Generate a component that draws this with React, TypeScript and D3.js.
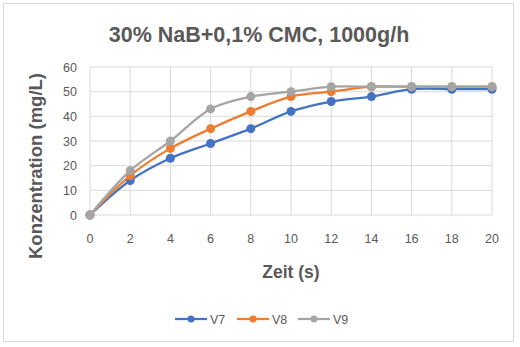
import React from "react";
import * as d3 from "d3";

const times = [0, 2, 4, 6, 8, 10, 12, 14, 16, 18, 20];
const v7 = [0, 14, 23, 29, 35, 42, 46, 48, 51, 51, 51];
const v8 = [0, 16, 27, 35, 42, 48, 50, 52, 52, 52, 52];
const v9 = [0, 18, 30, 43, 48, 50, 52, 52, 52, 52, 52];
const seriesNames = ["V7", "V8", "V9"];
const seriesColors = ["#4472C4", "#ED7D31", "#A5A5A5"];
const xTicks = [0, 2, 4, 6, 8, 10, 12, 14, 16, 18, 20];
const yTicks = [0, 10, 20, 30, 40, 50, 60];

export default function App() {
  const W = 520, H = 347;
  const x = d3.scaleLinear().domain([0, 20]).range([90, 492]);
  const y = d3.scaleLinear().domain([0, 60]).range([215, 67]);
  const all = [v7, v8, v9];
  const line = d3
    .line<number>()
    .x((_, i) => x(times[i]))
    .y((d) => y(d))
    .curve(d3.curveCatmullRom.alpha(0.5));
  const font = "'Liberation Sans', Arial, sans-serif";
  const textCol = "#595959";
  const legendX = [175, 237, 298];
  return (
    <svg width={W} height={H} style={{ position: "absolute", left: 0, top: 0 }} fontFamily={font}>
      <rect x={0} y={0} width={W} height={H} fill="#fff" />
      <rect x={3.5} y={3.5} width={510} height={338} fill="#fff" stroke="#D9D9D9" />
      <text x={259} y={42} textAnchor="middle" fontSize={21.5} fontWeight="bold" fill={textCol}>
        30% NaB+0,1% CMC, 1000g/h
      </text>
      {yTicks.map((t) => (
        <g key={"y" + t}>
          <line x1={90} x2={492} y1={y(t)} y2={y(t)} stroke="#D9D9D9" />
          <text x={77} y={y(t) + 4.5} textAnchor="end" fontSize={12.5} fill={textCol}>{t}</text>
        </g>
      ))}
      {xTicks.map((t) => (
        <g key={"x" + t}>
          <line x1={x(t)} x2={x(t)} y1={67} y2={215} stroke="#D9D9D9" />
          <text x={x(t)} y={243} textAnchor="middle" fontSize={12.5} fill={textCol}>{t}</text>
        </g>
      ))}
      <text
        transform="translate(42,166) rotate(-90)"
        textAnchor="middle"
        fontSize={18.5}
        fontWeight="bold"
        fill={textCol}
      >
        Konzentration (mg/L)
      </text>
      <text x={291} y={278} textAnchor="middle" fontSize={17.5} fontWeight="bold" fill={textCol}>
        Zeit (s)
      </text>
      {all.map((s, si) => (
        <g key={"s" + si}>
          <path d={line(s) || ""} fill="none" stroke={seriesColors[si]} strokeWidth={2.25} />
          {s.map((v, i) => (
            <circle key={i} cx={x(times[i])} cy={y(v)} r={4.5} fill={seriesColors[si]} />
          ))}
        </g>
      ))}
      {seriesNames.map((n, i) => (
        <g key={"l" + n}>
          <line x1={legendX[i]} x2={legendX[i] + 32} y1={319} y2={319} stroke={seriesColors[i]} strokeWidth={2.25} />
          <circle cx={legendX[i] + 16} cy={319} r={3.5} fill={seriesColors[i]} />
          <text x={legendX[i] + 35} y={323.5} fontSize={12.5} fill={textCol}>{n}</text>
        </g>
      ))}
    </svg>
  );
}
